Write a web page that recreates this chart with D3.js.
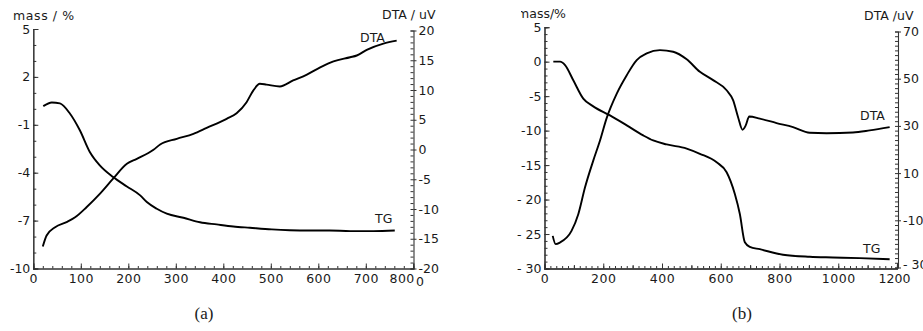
<!DOCTYPE html>
<html>
<head>
<meta charset="utf-8">
<script src="https://cdn.jsdelivr.net/npm/d3@7"></script>
<style>
  body { margin: 0; background: #fff; }
  svg { display: block; }
  text { font-family: "DejaVu Sans", sans-serif; fill: #1a1a1a; }
</style>
</head>
<body>
<svg id="chart" width="923" height="331"></svg>
<script>
// ---------- Data: panel (a) ----------
const tgTempA = [21, 39, 56, 77, 98, 119, 140, 168, 197, 225, 239, 260, 281, 316, 351, 386, 421, 456, 502, 540, 582, 624, 667, 716, 761];
const tgMassA = [0.17, 0.4, 0.34, -0.29, -1.34, -2.7, -3.54, -4.27, -4.86, -5.42, -5.84, -6.26, -6.57, -6.82, -7.1, -7.24, -7.37, -7.45, -7.55, -7.6, -7.62, -7.62, -7.66, -7.66, -7.62];
const dtaTempA = [20, 28, 46, 70, 88, 112, 140, 168, 197, 218, 253, 267, 302, 337, 365, 407, 428, 449, 463, 477, 491, 519, 547, 576, 604, 632, 667, 681, 702, 737, 765];
const dtaValA = [-16.3, -14.45, -13.05, -12.2, -11.4, -9.7, -7.45, -4.9, -2.4, -1.57, -0.05, 0.84, 1.8, 2.64, 3.64, 5.16, 6.1, 7.95, 9.9, 11.04, 10.9, 10.6, 11.6, 12.6, 13.8, 14.8, 15.5, 15.8, 16.75, 17.8, 18.3];
const xTicksA = [0, 100, 200, 300, 400, 500, 600, 700, 800];
const massTicksA = [5, 2, -1, -4, -7, -10];
const dtaTicksA = [20, 15, 10, 5, 0, -5, -10, -15, -20];

// ---------- Data: panel (b) ----------
const tgTempB = [30, 53, 70, 98, 132, 166, 223, 280, 336, 370, 416, 484, 529, 586, 620, 648, 665, 682, 699, 733, 812, 903, 982, 1073, 1175];
const tgMassB = [0, 0, -0.5, -2.7, -5.36, -6.48, -7.79, -9.24, -10.7, -11.43, -12.0, -12.6, -13.36, -14.6, -16.04, -19.2, -22.1, -26.2, -26.86, -27.2, -28.0, -28.3, -28.4, -28.5, -28.65];
const dtaTempB = [28, 38, 53, 92, 115, 138, 166, 189, 211, 246, 280, 314, 348, 393, 438, 484, 529, 574, 620, 642, 659, 674, 685, 697, 733, 790, 846, 903, 960, 1050, 1107, 1175];
const dtaValB = [-16.6, -20.1, -19.4, -14.5, -7.4, 4, 15.3, 23.8, 33.1, 43.7, 51.5, 57.9, 60.7, 62.1, 61.4, 58.2, 52.9, 49.4, 45.1, 40.9, 33.7, 28.4, 30.2, 34, 33.1, 31.2, 29.5, 27.1, 26.9, 27.2, 28.1, 29.5];
const xTicksB = [0, 200, 400, 600, 800, 1000, 1200];
const massTicksB = [5, 0, -5, -10, -15, -20, -25, -30];
const massLabelsB = ["5", "0", "-5", "-10", "-15", "- 20", "- 25", "- 30"];
const dtaTicksB = [70, 50, 30, 10, -10, -30];
const dtaLabelsB = ["70", "50", "30", "10", "-10", "- 30"];

const svg = d3.select("#chart");
svg.append("defs").append("clipPath").attr("id", "clipB")
  .append("rect").attr("x", 521).attr("y", 0).attr("width", 402).attr("height", 331);

function panel(cfg) {
  const g = svg.append("g");
  const x = d3.scaleLinear().domain(cfg.xDomain).range(cfg.xRange);
  const yL = d3.scaleLinear().domain(cfg.lDomain).range(cfg.yRangeL);
  const yR = d3.scaleLinear().domain(cfg.rDomain).range(cfg.yRangeR);
  const axisColor = "#333";
  const fs = "12.5px";

  function style(sel) {
    sel.select(".domain").attr("stroke", axisColor).attr("stroke-width", 1.1);
    sel.selectAll(".tick line").attr("stroke", axisColor).attr("stroke-width", 1);
    sel.selectAll(".tick text").style("font-size", fs).attr("fill", "#1a1a1a");
  }

  // x axis: minor ticks
  const xb = cfg.yRangeL[0];
  g.append("g").attr("transform", `translate(0,${xb})`)
    .call(d3.axisBottom(x).tickValues(cfg.xMinor).tickSize(-2.5).tickFormat(""))
    .call(style);
  if (cfg.xMid) g.append("g").attr("transform", `translate(0,${xb})`)
    .call(d3.axisBottom(x).tickValues(cfg.xMid).tickSize(-3.5).tickFormat(""))
    .call(style);
  g.append("g").attr("transform", `translate(0,${xb})`)
    .call(d3.axisBottom(x).tickValues(cfg.xTicks).tickSize(-5).tickPadding(6).tickFormat(d3.format("d")))
    .call(style)
    .call(s => s.selectAll(".tick text").attr("letter-spacing", "0.5px"))
    .call(s => { if (cfg.lastXEnd) s.selectAll(".tick text").filter(d => d === cfg.xDomain[1]).attr("text-anchor", "end").attr("dx", "1px"); })
    .call(s => { if (cfg.lastXShift) s.selectAll(".tick text").filter(d => d === cfg.xDomain[1]).attr("dx", cfg.lastXShift).attr("letter-spacing", "0px"); });

  // left axis
  const xl = cfg.xRange[0];
  g.append("g").attr("transform", `translate(${xl},0)`)
    .call(d3.axisLeft(yL).tickValues(cfg.lMinor).tickSize(-3).tickFormat(""))
    .call(style);
  g.append("g").attr("transform", `translate(${xl},0)`)
    .call(d3.axisLeft(yL).tickValues(cfg.lTicks).tickSize(-5).tickPadding(3)
      .tickFormat((d, i) => cfg.lLabels ? cfg.lLabels[i] : d))
    .call(style);

  // right axis
  const xr = cfg.xRight;
  g.append("g").attr("transform", `translate(${xr},0)`)
    .call(d3.axisRight(yR).tickValues(cfg.rMinor).tickSize(-3).tickFormat(""))
    .call(style);
  g.append("g").attr("transform", `translate(${xr},0)`)
    .call(d3.axisRight(yR).tickValues(cfg.rTicks).tickSize(3).tickPadding(2)
      .tickFormat((d, i) => cfg.rLabels ? cfg.rLabels[i] : d))
    .call(style)
    .call(s => s.select(".domain").remove())
    .call(s => { if (cfg.rBottomUp) s.selectAll(".tick text").filter(d => d === cfg.rDomain[0]).attr("dy", "0.1em"); });

  // curves
  const lineTG = d3.line().x((d, i) => x(cfg.tgT[i])).y(d => yL(d)).curve(d3.curveMonotoneX);
  const lineDTA = d3.line().x((d, i) => x(cfg.dtaT[i])).y(d => yR(d)).curve(d3.curveMonotoneX);
  g.append("path").attr("d", lineTG(cfg.tgV)).attr("fill", "none").attr("stroke", "#000").attr("stroke-width", 1.9);
  g.append("path").attr("d", lineDTA(cfg.dtaV)).attr("fill", "none").attr("stroke", "#000").attr("stroke-width", 1.9);
  return g;
}

panel({
  xDomain: [0, 800], xRange: [33.3, 413.3], xRight: 413.5, lastXEnd: true,
  lDomain: [-10, 5], yRangeL: [268.5, 29],
  rDomain: [-20, 20], yRangeR: [268.5, 30.5],
  xTicks: xTicksA, xMinor: d3.range(20, 800, 20),
  lTicks: massTicksA, lMinor: d3.range(-10, 5.01, 1),
  rTicks: dtaTicksA, rMinor: d3.range(-20, 20.01, 1),
  tgT: tgTempA, tgV: tgMassA, dtaT: dtaTempA, dtaV: dtaValA
});

panel({
  xDomain: [0, 1200], xRange: [544.5, 897], xRight: 898, lastXShift: "-3px", rBottomUp: true,
  lDomain: [-30, 5], yRangeL: [268.5, 27.2],
  rDomain: [-30, 70], yRangeR: [267.5, 31.5],
  xTicks: xTicksB, xMinor: d3.range(20, 1200, 20), xMid: d3.range(100, 1200, 200),
  lTicks: massTicksB, lLabels: massLabelsB, lMinor: d3.range(-30, 5.01, 1),
  rTicks: dtaTicksB, rLabels: dtaLabelsB, rMinor: d3.range(-30, 70.01, 2),
  tgT: tgTempB, tgV: tgMassB, dtaT: dtaTempB, dtaV: dtaValB
});

// extra "0" after 800 in panel (a)
svg.append("text").attr("x", 416).attr("y", 286).style("font-size", "12.5px").text("0");

// axis titles
svg.append("text").attr("x", 13).attr("y", 20).style("font-size", "12.5px").attr("letter-spacing", "0.6px").text("mass / %");
svg.append("text").attr("x", 382).attr("y", 19).style("font-size", "12.5px").text("DTA / uV");
svg.append("text").attr("x", 566).attr("y", 18).attr("text-anchor", "end").attr("clip-path", "url(#clipB)")
  .style("font-size", "12.5px").text("mass/%");
svg.append("text").attr("x", 864).attr("y", 20).style("font-size", "12.5px").text("DTA /uV");

// curve labels
svg.append("text").attr("x", 360).attr("y", 42).style("font-size", "12.5px").text("DTA");
svg.append("text").attr("x", 375).attr("y", 223).style("font-size", "12.5px").text("TG");
svg.append("text").attr("x", 860).attr("y", 120).style("font-size", "12.5px").text("DTA");
svg.append("text").attr("x", 863).attr("y", 253).style("font-size", "12.5px").text("TG");

// captions
svg.append("text").attr("x", 204).attr("y", 319).attr("text-anchor", "middle")
  .style("font-family", "'Liberation Serif', serif").style("font-size", "17px").text("(a)");
svg.append("text").attr("x", 742).attr("y", 319).attr("text-anchor", "middle")
  .style("font-family", "'Liberation Serif', serif").style("font-size", "17px").text("(b)");
</script>
</body>
</html>
